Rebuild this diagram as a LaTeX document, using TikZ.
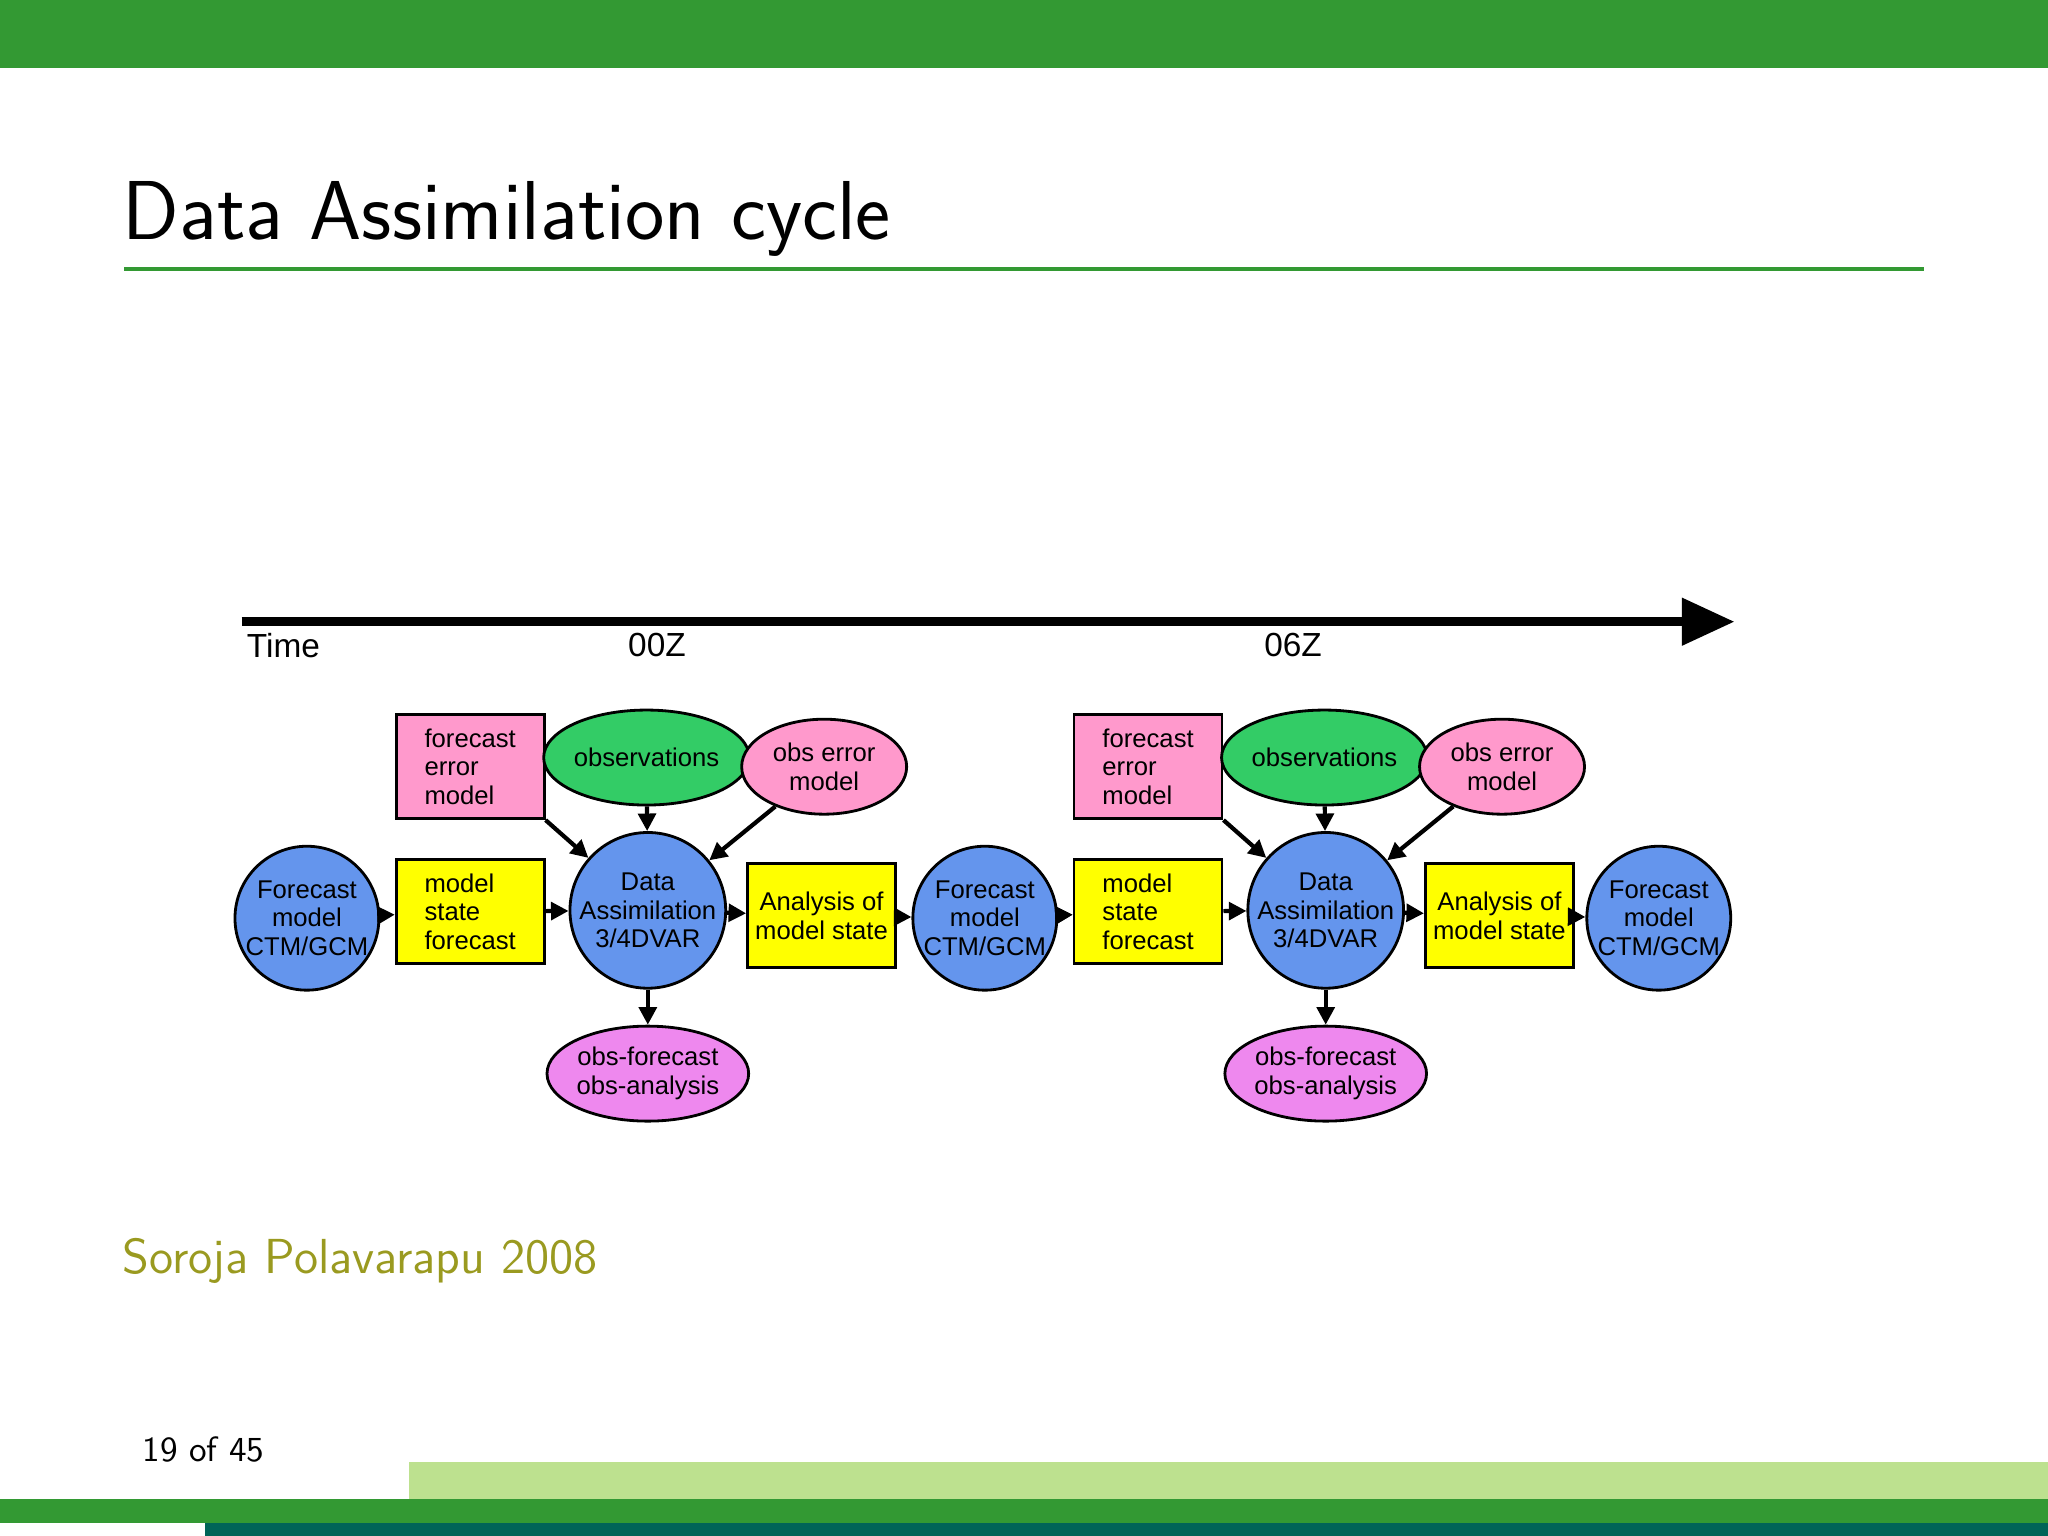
\documentclass[tikz,border=0pt]{standalone}
\usepackage{fontspec}
\usetikzlibrary{shapes.geometric,arrows.meta}
\newfontfamily\arialf{Liberation Sans}
\definecolor{bgreen}{HTML}{339933}
\definecolor{lgreen}{HTML}{BDE18F}
\definecolor{teal2}{HTML}{006458}
\definecolor{olive2}{HTML}{9A9A20}
\definecolor{nblue}{HTML}{6495ED}
\definecolor{npink}{HTML}{FF99CC}
\definecolor{ngreen}{HTML}{33CC66}
\definecolor{nviolet}{HTML}{EE88EE}
\definecolor{nyellow}{HTML}{FFFF00}
\begin{document}
\begin{tikzpicture}[x=0.013061cm,y=0.013061cm,
  every node/.style={font=\arialf\fontsize{7.3}{8.2}\selectfont, align=center, inner sep=0pt, line width=0.8pt, draw=black},
  circ/.style={circle, fill=nblue, minimum size=1.36cm},
  rect/.style={rectangle, minimum width=1.48cm, minimum height=1.04cm},
  ell/.style={ellipse, minimum width=1.65cm, minimum height=0.95cm},
  arr/.style={draw=black, line width=1.2pt, -{Triangle[length=5pt,width=5pt]}},
  plain/.style={draw=none, fill=none}]
\useasboundingbox (0,0) rectangle (1568,-1176);
\fill[bgreen] (0,0) rectangle (1568,-52);
\node[plain, anchor=base west, font=\sffamily\fontsize{23.8}{28}\selectfont] (title) at (93,-183) {Data Assimilation cycle};
\draw[bgreen, line width=1.2pt] (95,-206) -- (1473,-206);
\coordinate (t0) at (185,-476); \coordinate (t1) at (1328,-476);
\draw[line width=2.6pt, -{Triangle[length=15pt,width=13pt]}] (t0) -- (t1);
\node[plain, font=\arialf\fontsize{9.5}{11}\selectfont] (time) at (217,-494) {Time};
\node[plain, font=\arialf\fontsize{9.5}{11}\selectfont] (z0) at (503,-494) {00Z};
\node[plain, font=\arialf\fontsize{9.5}{11}\selectfont] (z6) at (990,-494) {06Z};
\foreach \o/\s in {0/a,519/b}{
  \node[circ] (fc\s) at (235+\o,-703) {Forecast\\model\\CTM/GCM};
  \node[rect, fill=nyellow, align=left] (ms\s) at (360+\o,-698) {model\\state\\forecast};
  \node[rect, fill=npink, align=left] (fe\s) at (360+\o,-587) {forecast\\error\\model};
  \node[ell, fill=ngreen] (ob\s) at (495+\o,-580) {observations};
  \node[ell, fill=npink] (oe\s) at (631+\o,-587) {obs error\\model};
  \node[circ] (da\s) at (496+\o,-697) {Data\\Assimilation\\3/4DVAR};
  \node[ell, fill=nviolet] (of\s) at (496+\o,-822) {obs-forecast\\obs-analysis};
  \node[rect, fill=nyellow] (an\s) at (629+\o,-701) {Analysis of\\model state};
  \draw[arr] (fc\s) -- (ms\s);
  \draw[arr] (ms\s) -- (da\s);
  \draw[arr] (da\s) -- (an\s);
  \draw[arr] (fe\s.south east) -- (da\s);
  \draw[arr] (ob\s) -- (da\s);
  \draw[arr] (oe\s) -- (da\s);
  \draw[arr] (da\s) -- (of\s);
}
\draw[arr] (ana) -- (fcb);
\draw[arr] (fcb) -- (msb);
\node[circ] (fcc) at (1270,-703) {Forecast\\model\\CTM/GCM};
\draw[arr] (anb) -- (fcc);
\node[plain, anchor=base west, text=olive2, font=\sffamily\fontsize{14}{17}\selectfont] (cite) at (93,-975) {Soroja Polavarapu 2008};
\node[plain, anchor=base west, font=\sffamily\fontsize{10}{12}\selectfont] (pg) at (108,-1119) {19 of 45};
\fill[lgreen] (313,-1119) rectangle (1568,-1148);
\fill[bgreen] (0,-1148) rectangle (1568,-1166);
\fill[teal2] (157,-1166) rectangle (1568,-1176);
\end{tikzpicture}
\end{document}
